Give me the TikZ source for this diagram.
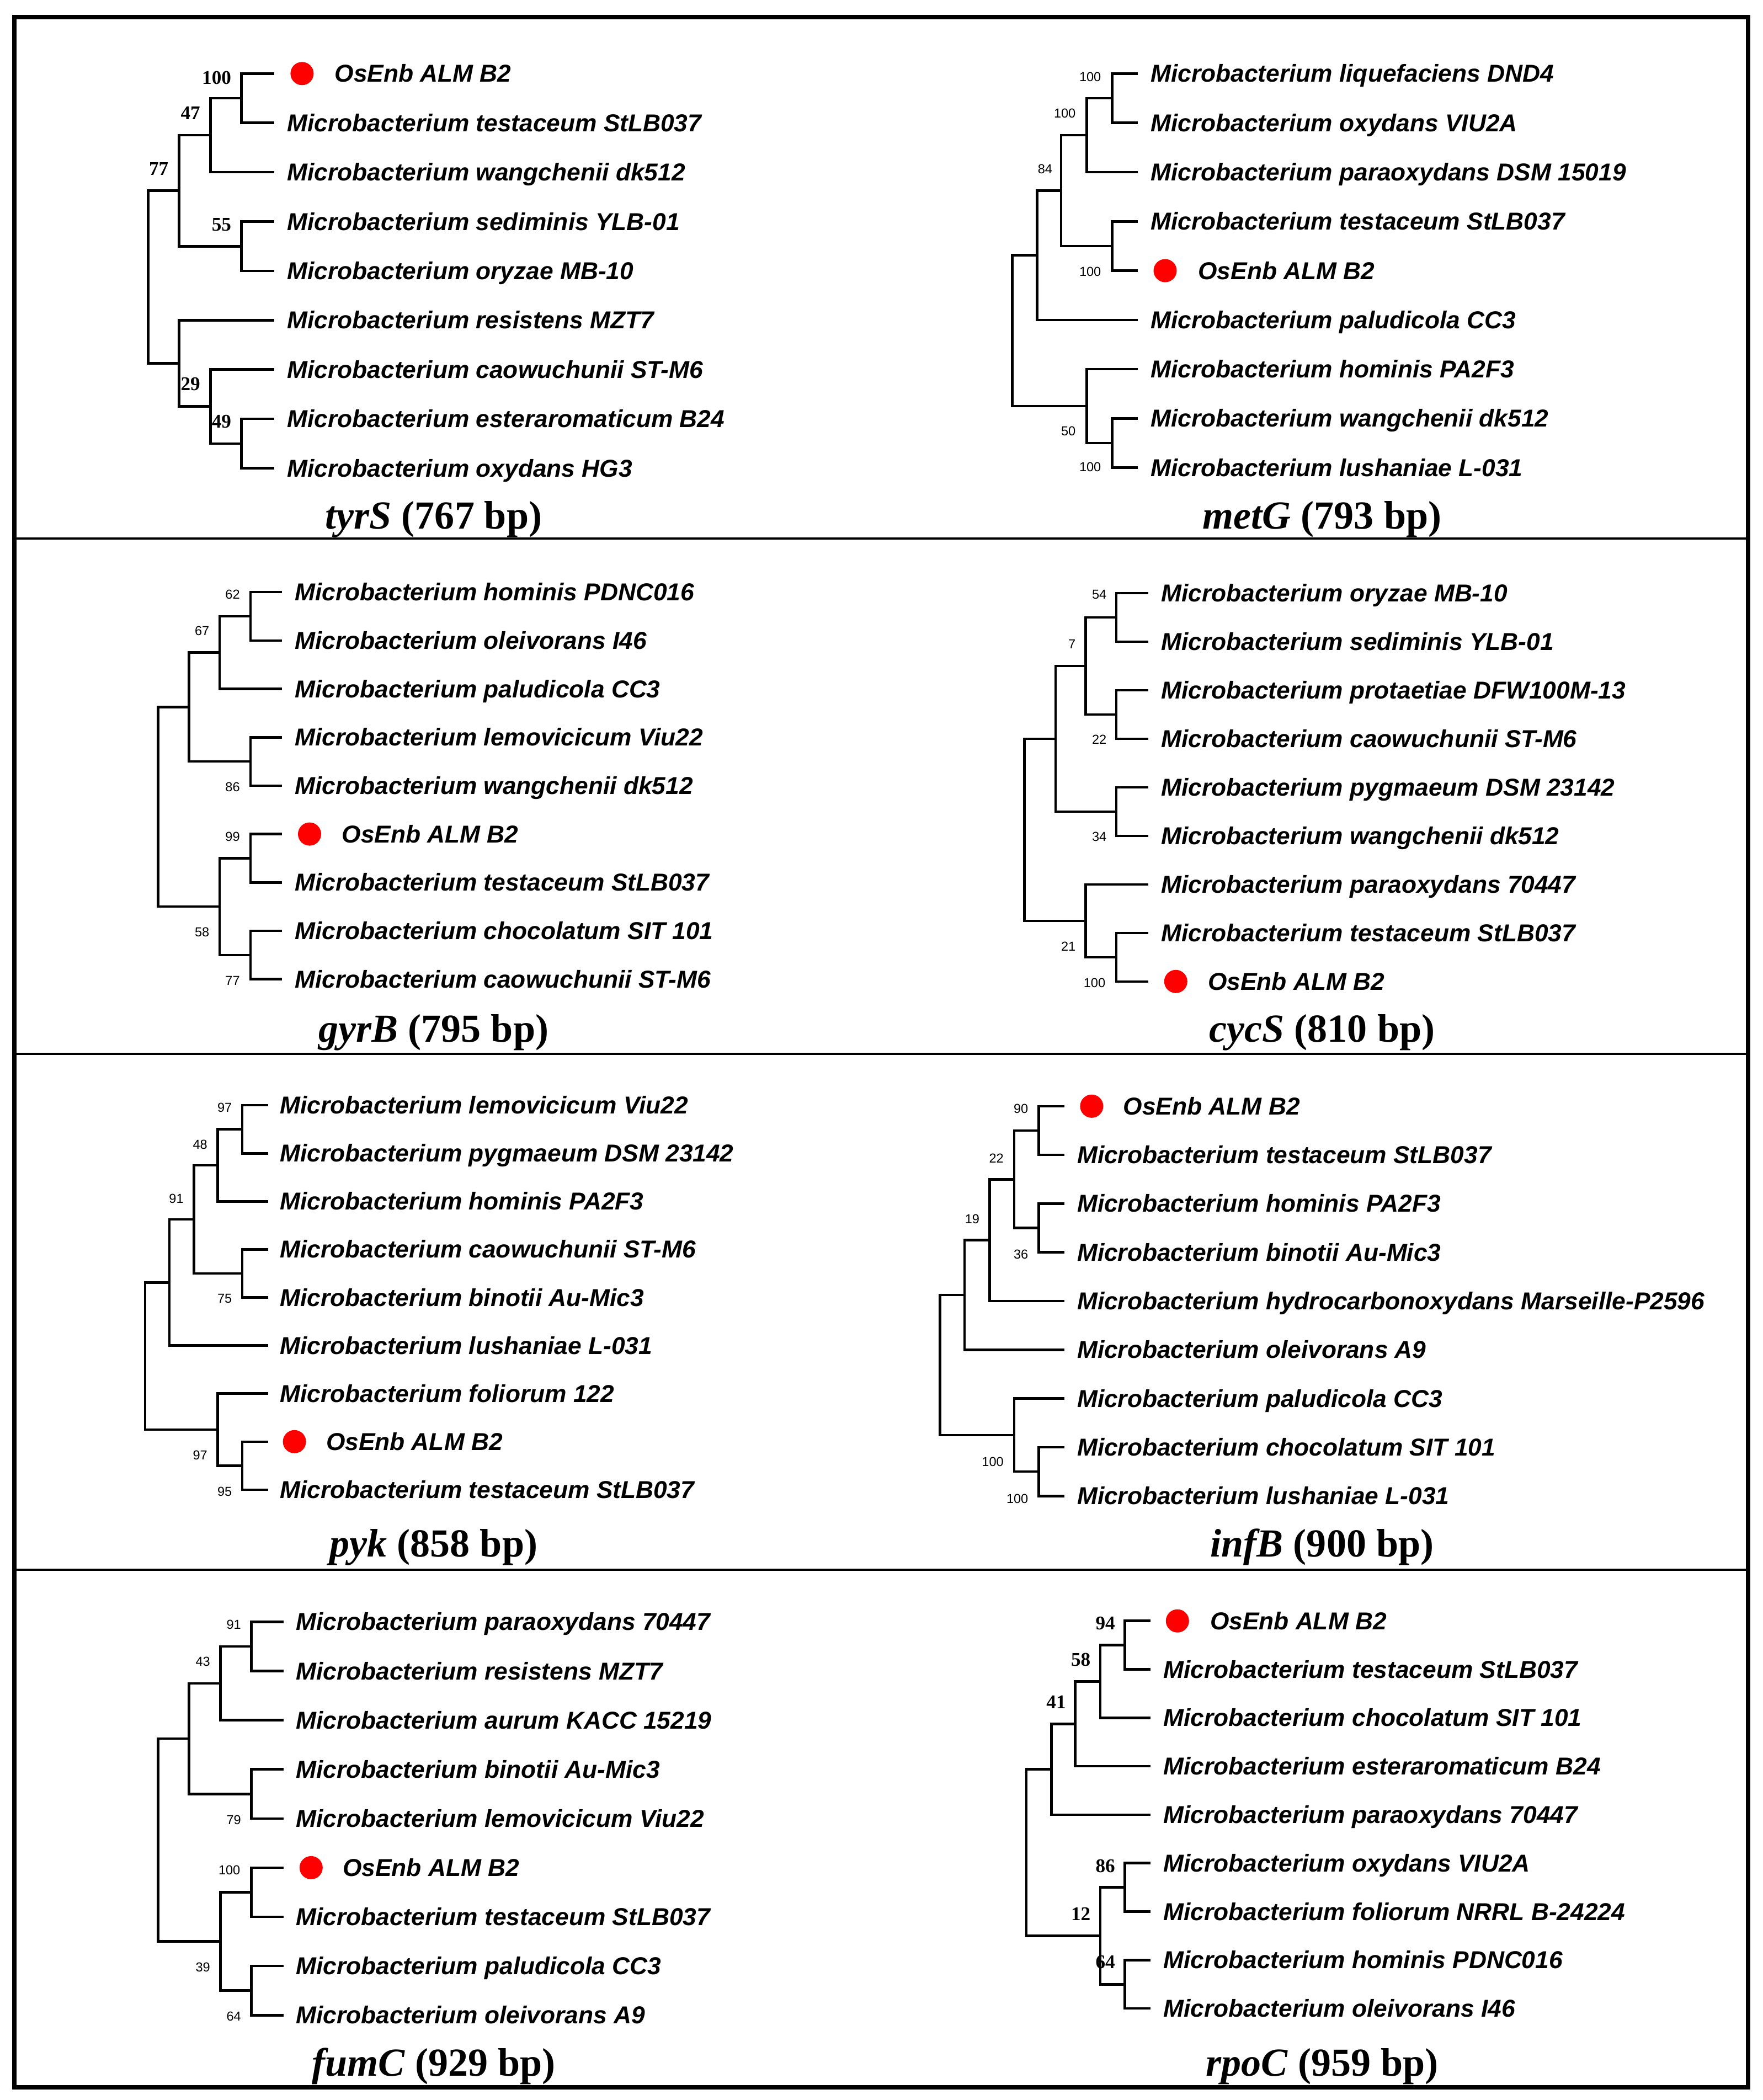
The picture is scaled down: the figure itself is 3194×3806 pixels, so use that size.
\documentclass[tikz,border=0pt]{standalone}
\usepackage{fontspec}
\setmainfont{Liberation Serif}
\newfontfamily\strainfont{Liberation Sans}

\tikzset{
  treeline/.style={line width=0.46mm},
  leaflabel/.style={anchor=west, inner sep=0pt, text height=3.1mm, text depth=0pt,
    font=\strainfont\bfseries\itshape\fontsize{12.6}{14}\selectfont},
  ownstrain/.style={circle, fill=red, inner sep=0pt, minimum size=4.2mm},
  bootsans/.style={anchor=east, inner sep=0pt, font=\strainfont\fontsize{6.7}{8}\selectfont},
  bootserif/.style={anchor=east, inner sep=0pt, font=\bfseries\fontsize{10}{12}\selectfont},
  genetitle/.style={anchor=base, inner sep=0pt, font=\bfseries\fontsize{20.5}{24}\selectfont},
}

\begin{document}
\begin{tikzpicture}[x=0.1mm, y=-0.1mm]

    \useasboundingbox (0,0) rectangle (3194,3806);

    % frame and row dividers
    \draw[line width=0.8mm] (26,30.5) rectangle (3167.7,3782.7);
    \draw[line width=0.4mm] (26,976) -- (3167.7,976);
    \draw[line width=0.4mm] (26,1910) -- (3167.7,1910);
    \draw[line width=0.4mm] (26,2845) -- (3167.7,2845);

    % tyrS
    \begin{scope}[shift={(268.7,133.3)}, y=-8.94mm]
        \foreach \r in {0,...,8} \coordinate (ty-l\r) at (228.3,\r);
        \foreach \r/\sp in {1/testaceum StLB037, 2/wangchenii dk512, 3/sediminis YLB-01,
            4/oryzae MB-10, 5/resistens MZT7, 6/caowuchunii ST-M6,
            7/esteraromaticum B24, 8/oxydans HG3}
            \node[leaflabel] (ty-t\r) at (251.3,\r) {Microbacterium \sp};
        \node[ownstrain] (ty-dot) at (278.7,0) {};
        \node[leaflabel] (ty-t0) at (337.3,0) {OsEnb ALM B2};

        \coordinate (ty-root) at (0,4.125);
        \coordinate (ty-n77) at (56,2.375);
        \coordinate (ty-n47) at (112.7,1.25);
        \coordinate (ty-n100) at (168.8,0.5);
        \coordinate (ty-n55) at (168.8,3.5);
        \coordinate (ty-nB) at (56,5.875);
        \coordinate (ty-n29) at (112.7,6.75);
        \coordinate (ty-n49) at (168.8,7.5);

        \draw[treeline] (ty-root) |- (ty-n77) (ty-root) |- (ty-nB)
            (ty-n77) |- (ty-n47) (ty-n77) |- (ty-n55)
            (ty-n47) |- (ty-n100) (ty-n47) |- (ty-l2)
            (ty-n100) |- (ty-l0) (ty-n100) |- (ty-l1)
            (ty-n55) |- (ty-l3) (ty-n55) |- (ty-l4)
            (ty-nB) |- (ty-l5) (ty-nB) |- (ty-n29)
            (ty-n29) |- (ty-l6) (ty-n29) |- (ty-n49)
            (ty-n49) |- (ty-l7) (ty-n49) |- (ty-l8);

        \node[bootserif] (ty-b100) at (150.9,0.084) {100};
        \node[bootserif] (ty-b47) at (94.8,0.806) {47};
        \node[bootserif] (ty-b77) at (37.3,1.936) {77};
        \node[bootserif] (ty-b55) at (150.9,3.065) {55};
        \node[bootserif] (ty-b29) at (94.8,6.29) {29};
        \node[bootserif] (ty-b49) at (150.9,7.05) {49};
    \end{scope}
    \node[genetitle] (tyrS) at (786,958) {\textit{tyrS} (767 bp)};

    % metG
    \begin{scope}[shift={(1834.6,133.3)}, y=-8.93mm]
        \foreach \r in {0,...,8} \coordinate (mg-l\r) at (226.9,\r);
        \foreach \r/\sp in {0/liquefaciens DND4, 1/oxydans VIU2A, 2/paraoxydans DSM 15019,
            3/testaceum StLB037, 5/paludicola CC3, 6/hominis PA2F3,
            7/wangchenii dk512, 8/lushaniae L-031}
            \node[leaflabel] (mg-t\r) at (250,\r) {Microbacterium \sp};
        \node[ownstrain] (mg-dot) at (276.9,4) {};
        \node[leaflabel] (mg-t4) at (336.2,4) {OsEnb ALM B2};

        \coordinate (mg-root) at (0,5.21875);
        \coordinate (mg-nA) at (44.6,3.6875);
        \coordinate (mg-nB) at (88.4,2.375);
        \coordinate (mg-nC) at (134.6,1.25);
        \coordinate (mg-nD) at (180.8,0.5);
        \coordinate (mg-nE) at (180.8,3.5);
        \coordinate (mg-nF) at (134.6,6.75);
        \coordinate (mg-nG) at (180.8,7.5);

        \draw[treeline] (mg-root) |- (mg-nA) (mg-root) |- (mg-nF)
            (mg-nA) |- (mg-nB) (mg-nA) |- (mg-l5)
            (mg-nB) |- (mg-nC) (mg-nB) |- (mg-nE)
            (mg-nC) |- (mg-nD) (mg-nC) |- (mg-l2)
            (mg-nD) |- (mg-l0) (mg-nD) |- (mg-l1)
            (mg-nE) |- (mg-l3) (mg-nE) |- (mg-l4)
            (mg-nF) |- (mg-l6) (mg-nF) |- (mg-nG)
            (mg-nG) |- (mg-l7) (mg-nG) |- (mg-l8);

        \node[bootsans] (mg-b1) at (161.4,0.064) {100};
        \node[bootsans] (mg-b2) at (115.4,0.803) {100};
        \node[bootsans] (mg-b3) at (73.1,1.934) {84};
        \node[bootsans] (mg-b4) at (161.4,4.017) {100};
        \node[bootsans] (mg-b5) at (115.4,7.253) {50};
        \node[bootsans] (mg-b6) at (161.4,7.99) {100};
    \end{scope}
    \node[genetitle] (metG) at (2396,958) {\textit{metG} (793 bp)};

    % gyrB
    \begin{scope}[shift={(286.7,1073.1)}, y=-8.77mm]
        \foreach \r in {0,...,8} \coordinate (gy-l\r) at (224.7,\r);
        \foreach \r/\sp in {0/hominis PDNC016, 1/oleivorans I46, 2/paludicola CC3,
            3/lemovicicum Viu22, 4/wangchenii dk512, 6/testaceum StLB037,
            7/chocolatum SIT 101, 8/caowuchunii ST-M6}
            \node[leaflabel] (gy-t\r) at (247.3,\r) {Microbacterium \sp};
        \node[ownstrain] (gy-dot) at (274.3,5) {};
        \node[leaflabel] (gy-t5) at (332.3,5) {OsEnb ALM B2};

        \coordinate (gy-root) at (0,4.4375);
        \coordinate (gy-nP) at (56,2.375);
        \coordinate (gy-nR) at (111.3,1.25);
        \coordinate (gy-nT) at (167.3,0.5);
        \coordinate (gy-nS) at (167.3,3.5);
        \coordinate (gy-nQ) at (111.3,6.5);
        \coordinate (gy-nU) at (167.3,5.5);
        \coordinate (gy-nV) at (167.3,7.5);

        \draw[treeline] (gy-root) |- (gy-nP) (gy-root) |- (gy-nQ)
            (gy-nP) |- (gy-nR) (gy-nP) |- (gy-nS)
            (gy-nR) |- (gy-nT) (gy-nR) |- (gy-l2)
            (gy-nT) |- (gy-l0) (gy-nT) |- (gy-l1)
            (gy-nS) |- (gy-l3) (gy-nS) |- (gy-l4)
            (gy-nQ) |- (gy-nU) (gy-nQ) |- (gy-nV)
            (gy-nU) |- (gy-l5) (gy-nU) |- (gy-l6)
            (gy-nV) |- (gy-l7) (gy-nV) |- (gy-l8);

        \node[bootsans] (gy-b62) at (148.6,0.052) {62};
        \node[bootsans] (gy-b67) at (93.3,0.796) {67};
        \node[bootsans] (gy-b86) at (148.6,4.032) {86};
        \node[bootsans] (gy-b99) at (148.6,5.05) {99};
        \node[bootsans] (gy-b58) at (93.3,7.023) {58};
        \node[bootsans] (gy-b77) at (148.6,8.026) {77};
    \end{scope}
    \node[genetitle] (gyrB) at (786,1888) {\textit{gyrB} (795 bp)};

    % cycS
    \begin{scope}[shift={(1856.2,1074.8)}, y=-8.8mm]
        \foreach \r in {0,...,8} \coordinate (cy-l\r) at (224.6,\r);
        \foreach \r/\sp in {0/oryzae MB-10, 1/sediminis YLB-01, 2/protaetiae DFW100M-13,
            3/caowuchunii ST-M6, 4/pygmaeum DSM 23142, 5/wangchenii dk512,
            6/paraoxydans 70447, 7/testaceum StLB037}
            \node[leaflabel] (cy-t\r) at (247.6,\r) {Microbacterium \sp};
        \node[ownstrain] (cy-dot) at (274.6,8) {};
        \node[leaflabel] (cy-t8) at (332.3,8) {OsEnb ALM B2};

        \coordinate (cy-root) at (0,4.875);
        \coordinate (cy-nP) at (56.8,3);
        \coordinate (cy-nR) at (111.5,1.5);
        \coordinate (cy-nT) at (166.8,0.5);
        \coordinate (cy-nU) at (166.8,2.5);
        \coordinate (cy-nS) at (166.8,4.5);
        \coordinate (cy-nQ) at (111.5,6.75);
        \coordinate (cy-nV) at (166.8,7.5);

        \draw[treeline] (cy-root) |- (cy-nP) (cy-root) |- (cy-nQ)
            (cy-nP) |- (cy-nR) (cy-nP) |- (cy-nS)
            (cy-nR) |- (cy-nT) (cy-nR) |- (cy-nU)
            (cy-nT) |- (cy-l0) (cy-nT) |- (cy-l1)
            (cy-nU) |- (cy-l2) (cy-nU) |- (cy-l3)
            (cy-nS) |- (cy-l4) (cy-nS) |- (cy-l5)
            (cy-nQ) |- (cy-l6) (cy-nQ) |- (cy-nV)
            (cy-nV) |- (cy-l7) (cy-nV) |- (cy-l8);

        \node[bootsans] (cy-b54) at (149.8,0.033) {54};
        \node[bootsans] (cy-b7) at (93.8,1.048) {7};
        \node[bootsans] (cy-b22) at (149.8,3.014) {22};
        \node[bootsans] (cy-b34) at (149.8,5.014) {34};
        \node[bootsans] (cy-b21) at (93.8,7.275) {21};
        \node[bootsans] (cy-b100) at (147.6,8.03) {100};
    \end{scope}
    \node[genetitle] (cycS) at (2396,1888) {\textit{cycS} (810 bp)};

    % pyk
    \begin{scope}[shift={(263,2003.1)}, y=-8.71mm]
        \foreach \r in {0,...,8} \coordinate (py-l\r) at (222.5,\r);
        \foreach \r/\sp in {0/lemovicicum Viu22, 1/pygmaeum DSM 23142, 2/hominis PA2F3,
            3/caowuchunii ST-M6, 4/binotii Au-Mic3, 5/lushaniae L-031,
            6/foliorum 122, 8/testaceum StLB037}
            \node[leaflabel] (py-t\r) at (244,\r) {Microbacterium \sp};
        \node[ownstrain] (py-dot) at (270.6,7) {};
        \node[leaflabel] (py-t7) at (327.3,7) {OsEnb ALM B2};

        \coordinate (py-root) at (0,5.21875);
        \coordinate (py-nA) at (43.8,3.6875);
        \coordinate (py-nC) at (88.3,2.375);
        \coordinate (py-nD) at (131.4,1.25);
        \coordinate (py-nF) at (175.9,0.5);
        \coordinate (py-nE) at (175.9,3.5);
        \coordinate (py-nB) at (131.4,6.75);
        \coordinate (py-nG) at (175.9,7.5);

        \draw[treeline] (py-root) |- (py-nA) (py-root) |- (py-nB)
            (py-nA) |- (py-nC) (py-nA) |- (py-l5)
            (py-nC) |- (py-nD) (py-nC) |- (py-nE)
            (py-nD) |- (py-nF) (py-nD) |- (py-l2)
            (py-nF) |- (py-l0) (py-nF) |- (py-l1)
            (py-nE) |- (py-l3) (py-nE) |- (py-l4)
            (py-nB) |- (py-l6) (py-nB) |- (py-nG)
            (py-nG) |- (py-l7) (py-nG) |- (py-l8);

        \node[bootsans] (py-b1) at (158,0.053) {97};
        \node[bootsans] (py-b2) at (113.4,0.814) {48};
        \node[bootsans] (py-b3) at (70.3,1.939) {91};
        \node[bootsans] (py-b4) at (158,4.026) {75};
        \node[bootsans] (py-b5) at (113.4,7.286) {97};
        \node[bootsans] (py-b6) at (158,8.035) {95};
    \end{scope}
    \node[genetitle] (pyk) at (786,2821) {\textit{pyk} (858 bp)};

    % infB
    \begin{scope}[shift={(1703.2,2004.8)}, y=-8.83mm]
        \foreach \r in {0,...,8} \coordinate (in-l\r) at (225.9,\r);
        \foreach \r/\sp in {1/testaceum StLB037, 2/hominis PA2F3, 3/binotii Au-Mic3,
            4/hydrocarbonoxydans Marseille-P2596, 5/oleivorans A9, 6/paludicola CC3,
            7/chocolatum SIT 101, 8/lushaniae L-031}
            \node[leaflabel] (in-t\r) at (248.2,\r) {Microbacterium \sp};
        \node[ownstrain] (in-dot) at (275.2,0) {};
        \node[leaflabel] (in-t0) at (331.9,0) {OsEnb ALM B2};

        \coordinate (in-root) at (0,5.3125);
        \coordinate (in-nA) at (44.7,3.875);
        \coordinate (in-nC) at (90.2,2.75);
        \coordinate (in-nD) at (134.8,1.5);
        \coordinate (in-nE) at (179.4,0.5);
        \coordinate (in-nF) at (179.4,2.5);
        \coordinate (in-nB) at (134.8,6.75);
        \coordinate (in-nG) at (179.4,7.5);

        \draw[treeline] (in-root) |- (in-nA) (in-root) |- (in-nB)
            (in-nA) |- (in-nC) (in-nA) |- (in-l5)
            (in-nC) |- (in-nD) (in-nC) |- (in-l4)
            (in-nD) |- (in-nE) (in-nD) |- (in-nF)
            (in-nE) |- (in-l0) (in-nE) |- (in-l1)
            (in-nF) |- (in-l2) (in-nF) |- (in-l3)
            (in-nB) |- (in-l6) (in-nB) |- (in-nG)
            (in-nG) |- (in-l7) (in-nG) |- (in-l8);

        \node[bootsans] (in-b1) at (160.8,0.052) {90};
        \node[bootsans] (in-b2) at (116.2,1.065) {22};
        \node[bootsans] (in-b3) at (72.5,2.319) {19};
        \node[bootsans] (in-b4) at (160.8,3.037) {36};
        \node[bootsans] (in-b5) at (116.2,7.296) {100};
        \node[bootsans] (in-b6) at (160.8,8.054) {100};
    \end{scope}
    \node[genetitle] (infB) at (2396,2821) {\textit{infB} (900 bp)};

    % fumC
    \begin{scope}[shift={(286.7,2939.4)}, y=-8.91mm]
        \foreach \r in {0,...,8} \coordinate (fu-l\r) at (227.5,\r);
        \foreach \r/\sp in {0/paraoxydans 70447, 1/resistens MZT7, 2/aurum KACC 15219,
            3/binotii Au-Mic3, 4/lemovicicum Viu22, 6/testaceum StLB037,
            7/paludicola CC3, 8/oleivorans A9}
            \node[leaflabel] (fu-t\r) at (249.1,\r) {Microbacterium \sp};
        \node[ownstrain] (fu-dot) at (277.1,5) {};
        \node[leaflabel] (fu-t5) at (333.8,5) {OsEnb ALM B2};

        \coordinate (fu-root) at (0,4.4375);
        \coordinate (fu-nA) at (56,2.375);
        \coordinate (fu-nC) at (112.7,1.25);
        \coordinate (fu-nE) at (168.7,0.5);
        \coordinate (fu-nD) at (168.7,3.5);
        \coordinate (fu-nB) at (112.7,6.5);
        \coordinate (fu-nF) at (168.7,5.5);
        \coordinate (fu-nG) at (168.7,7.5);

        \draw[treeline] (fu-root) |- (fu-nA) (fu-root) |- (fu-nB)
            (fu-nA) |- (fu-nC) (fu-nA) |- (fu-nD)
            (fu-nC) |- (fu-nE) (fu-nC) |- (fu-l2)
            (fu-nE) |- (fu-l0) (fu-nE) |- (fu-l1)
            (fu-nD) |- (fu-l3) (fu-nD) |- (fu-l4)
            (fu-nB) |- (fu-nF) (fu-nB) |- (fu-nG)
            (fu-nF) |- (fu-l5) (fu-nF) |- (fu-l6)
            (fu-nG) |- (fu-l7) (fu-nG) |- (fu-l8);

        \node[bootsans] (fu-b91) at (150.7,0.058) {91};
        \node[bootsans] (fu-b43) at (94.7,0.809) {43};
        \node[bootsans] (fu-b79) at (150.7,4.025) {79};
        \node[bootsans] (fu-b100) at (149.3,5.05) {100};
        \node[bootsans] (fu-b39) at (94.7,7.026) {39};
        \node[bootsans] (fu-b64) at (150.7,8.022) {64};
    \end{scope}
    \node[genetitle] (fumC) at (786,3762) {\textit{fumC} (929 bp)};

    % rpoC
    \begin{scope}[shift={(1860,2937.7)}, y=-8.78mm]
        \foreach \r in {0,...,8} \coordinate (rp-l\r) at (224.6,\r);
        \foreach \r/\sp in {1/testaceum StLB037, 2/chocolatum SIT 101, 3/esteraromaticum B24,
            4/paraoxydans 70447, 5/oxydans VIU2A, 6/foliorum NRRL B-24224,
            7/hominis PDNC016, 8/oleivorans I46}
            \node[leaflabel] (rp-t\r) at (247.7,\r) {Microbacterium \sp};
        \node[ownstrain] (rp-dot) at (273.8,0) {};
        \node[leaflabel] (rp-t0) at (332.3,0) {OsEnb ALM B2};

        \coordinate (rp-root) at (0,4.78125);
        \coordinate (rp-nA) at (45.4,3.0625);
        \coordinate (rp-nC) at (88.5,2.125);
        \coordinate (rp-nD) at (133.8,1.25);
        \coordinate (rp-nE) at (178.5,0.5);
        \coordinate (rp-nB) at (133.8,6.5);
        \coordinate (rp-nF) at (178.5,5.5);
        \coordinate (rp-nG) at (178.5,7.5);

        \draw[treeline] (rp-root) |- (rp-nA) (rp-root) |- (rp-nB)
            (rp-nA) |- (rp-nC) (rp-nA) |- (rp-l4)
            (rp-nC) |- (rp-nD) (rp-nC) |- (rp-l3)
            (rp-nD) |- (rp-nE) (rp-nD) |- (rp-l2)
            (rp-nE) |- (rp-l0) (rp-nE) |- (rp-l1)
            (rp-nB) |- (rp-nF) (rp-nB) |- (rp-nG)
            (rp-nF) |- (rp-l5) (rp-nF) |- (rp-l6)
            (rp-nG) |- (rp-l7) (rp-nG) |- (rp-l8);

        \node[bootserif] (rp-b94) at (161.5,0.046) {94};
        \node[bootserif] (rp-b58) at (117,0.805) {58};
        \node[bootserif] (rp-b41) at (72.3,1.676) {41};
        \node[bootserif] (rp-b86) at (161.5,5.06) {86};
        \node[bootserif] (rp-b12) at (117,6.044) {12};
        \node[bootserif] (rp-b64) at (161.5,7.043) {64};
    \end{scope}
    \node[genetitle] (rpoC) at (2396,3762) {\textit{rpoC} (959 bp)};

\end{tikzpicture}
\end{document}
